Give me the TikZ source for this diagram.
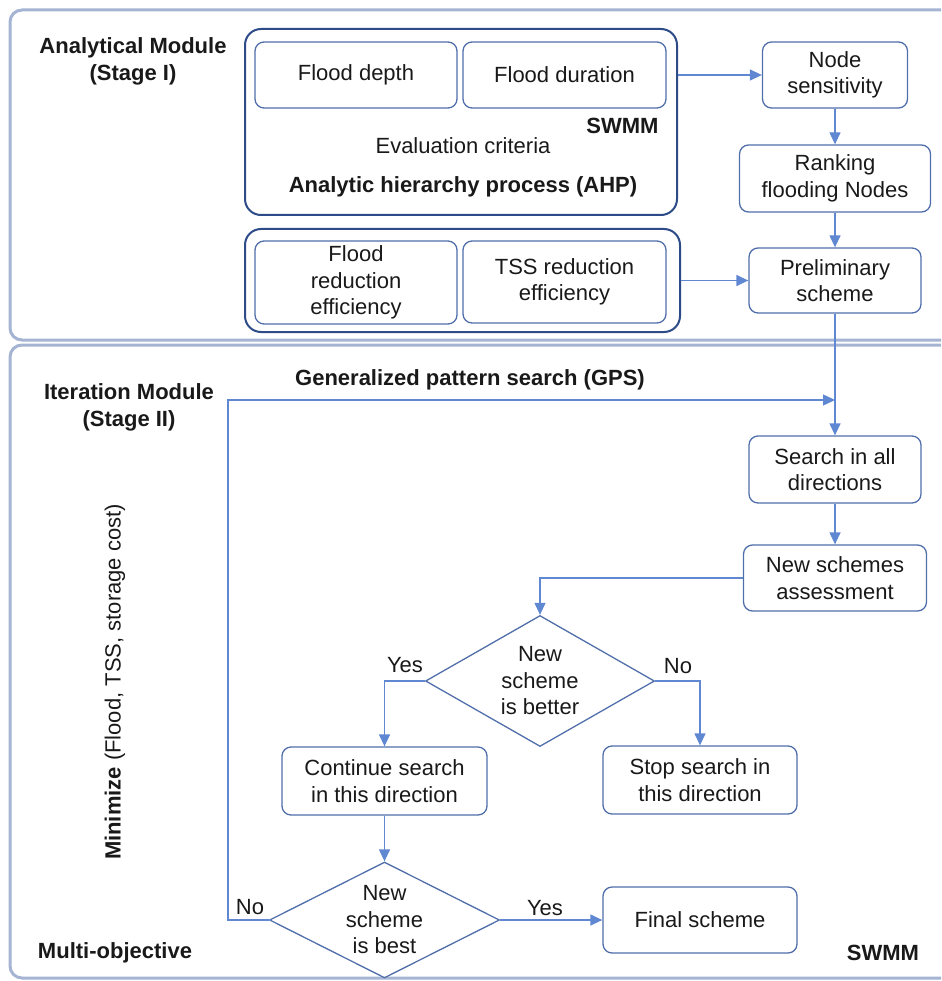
\documentclass[tikz,border=0pt]{standalone}
\usepackage{fontspec}
\setmainfont{Liberation Sans}
\usetikzlibrary{arrows.meta,shapes.geometric}
\definecolor{boxc}{RGB}{80,110,170}
\definecolor{arrc}{RGB}{95,135,210}
\definecolor{grpc}{RGB}{45,75,135}
\definecolor{frmc}{RGB}{165,180,210}
\definecolor{txtc}{RGB}{25,25,25}
\begin{document}
\begin{tikzpicture}[x=1pt,y=-1pt,
  every node/.style={text=txtc, font=\fontsize{22}{26.5}\selectfont},
  box/.style={draw=boxc, line width=1.3pt, rounded corners=9pt, align=center, inner sep=0pt},
  grp/.style={draw=grpc, line width=2pt, rounded corners=16pt, inner sep=0pt},
  frm/.style={draw=frmc, line width=3pt, rounded corners=12pt},
  arr/.style={draw=arrc, line width=1.3pt, -{Triangle[length=12pt,width=11pt]}},
  ln/.style={draw=arrc, line width=1.3pt},
  dia/.style={diamond, draw=boxc, line width=1.3pt, align=center, inner sep=0pt},
  bold/.style={font=\fontsize{22}{27}\selectfont\bfseries, align=center},
  lab/.style={font=\fontsize{22}{26.5}\selectfont},
]
\clip (0,0) rectangle (941,981);
% outer frames
\draw[frm] (10,10) rectangle (970,340);
\draw[frm] (10,345) rectangle (970,978);

% groups
\node[grp, minimum width=432pt, minimum height=186pt] (ahp) at (461,122) {};
\node[grp, minimum width=435pt, minimum height=103pt] (eff) at (462.5,280.5) {};

% stage I boxes
\node[box, minimum width=202pt, minimum height=66pt] (fdep) at (356,75) {Flood depth};
\node[box, minimum width=203pt, minimum height=66pt] (fdur) at (564.5,75) {Flood duration};
\node[box, minimum width=202pt, minimum height=83pt] (fre) at (356,282.5) {Flood\\reduction\\efficiency};
\node[box, minimum width=203pt, minimum height=82pt] (tre) at (564.5,282) {TSS reduction\\efficiency};
\node[bold, anchor=east] (swmm1) at (662,126) {SWMM};
\node (evc) at (463,146) {Evaluation criteria};
\node[bold] (ahpl) at (463,187) {Analytic hierarchy process (AHP)};

\node[box, minimum width=145pt, minimum height=66pt] (ns) at (835,75) {Node\\sensitivity};
\node[box, minimum width=191pt, minimum height=67pt] (rank) at (835,178.5) {Ranking\\flooding Nodes};
\node[box, minimum width=172pt, minimum height=65pt] (prel) at (835,280.5) {Preliminary\\scheme};

% stage II
\node[box, minimum width=172pt, minimum height=67pt] (srch) at (835,469.5) {Search in all\\directions};
\node[box, minimum width=183pt, minimum height=66pt] (nsa) at (835,578) {New schemes\\assessment};
\node[dia, minimum width=229pt, minimum height=131pt, aspect=1.75] (d1) at (540,681) {New\\scheme\\is better};
\node[box, minimum width=205pt, minimum height=68pt] (cont) at (384.5,781) {Continue search\\in this direction};
\node[box, minimum width=194pt, minimum height=68pt] (stop) at (700,780) {Stop search in\\this direction};
\node[dia, minimum width=230pt, minimum height=116pt, aspect=2] (d2) at (384.5,920) {New\\scheme\\is best};
\node[box, minimum width=194pt, minimum height=66pt] (fin) at (700,920) {Final scheme};

% side labels
\node[bold] (am) at (133,61) {Analytical Module\\(Stage I)};
\node[bold] (im) at (129,407) {Iteration Module\\(Stage II)};
\node[bold] (gps) at (470,380) {Generalized pattern search (GPS)};
\node[lab, rotate=90] (minz) at (115,682) {{\bfseries Minimize} (Flood, TSS, storage cost)};
\node[bold] (mo) at (115,953) {Multi-objective};
\node[bold] (swmm2) at (883,953) {SWMM};

% labels on connectors
\node[lab] (y1) at (405,665) {Yes};
\node[lab] (n1) at (678,666) {No};
\node[lab] (n2) at (250,907) {No};
\node[lab] (y2) at (545,908) {Yes};

% connectors
\draw[arr] (fdur.east -| ahp.east) -- (ns.west);
\draw[arr] (eff.east) -- (prel.west);
\draw[arr] (ns.south) -- (rank.north);
\draw[arr] (rank.south) -- (prel.north);
\draw[arr] (prel.south) -- (srch.north);
\draw[arr] (srch.south) -- (nsa.north);
\draw[arr] (nsa.west) -| (d1.north);
\draw[arr] (d1.west) -| (cont.north);
\draw[arr] (d1.east) -| (stop.north);
\draw[arr] (cont.south) -- (d2.north);
\draw[arr] (d2.east) -- (fin.west);
\coordinate (lp1) at (228,920);
\coordinate (lp2) at (228,400);
\coordinate (lp3) at (prel.south |- lp2);
\draw[arr] (d2.west) -- (lp1) -- (lp2) -- (lp3);
\end{tikzpicture}
\end{document}
